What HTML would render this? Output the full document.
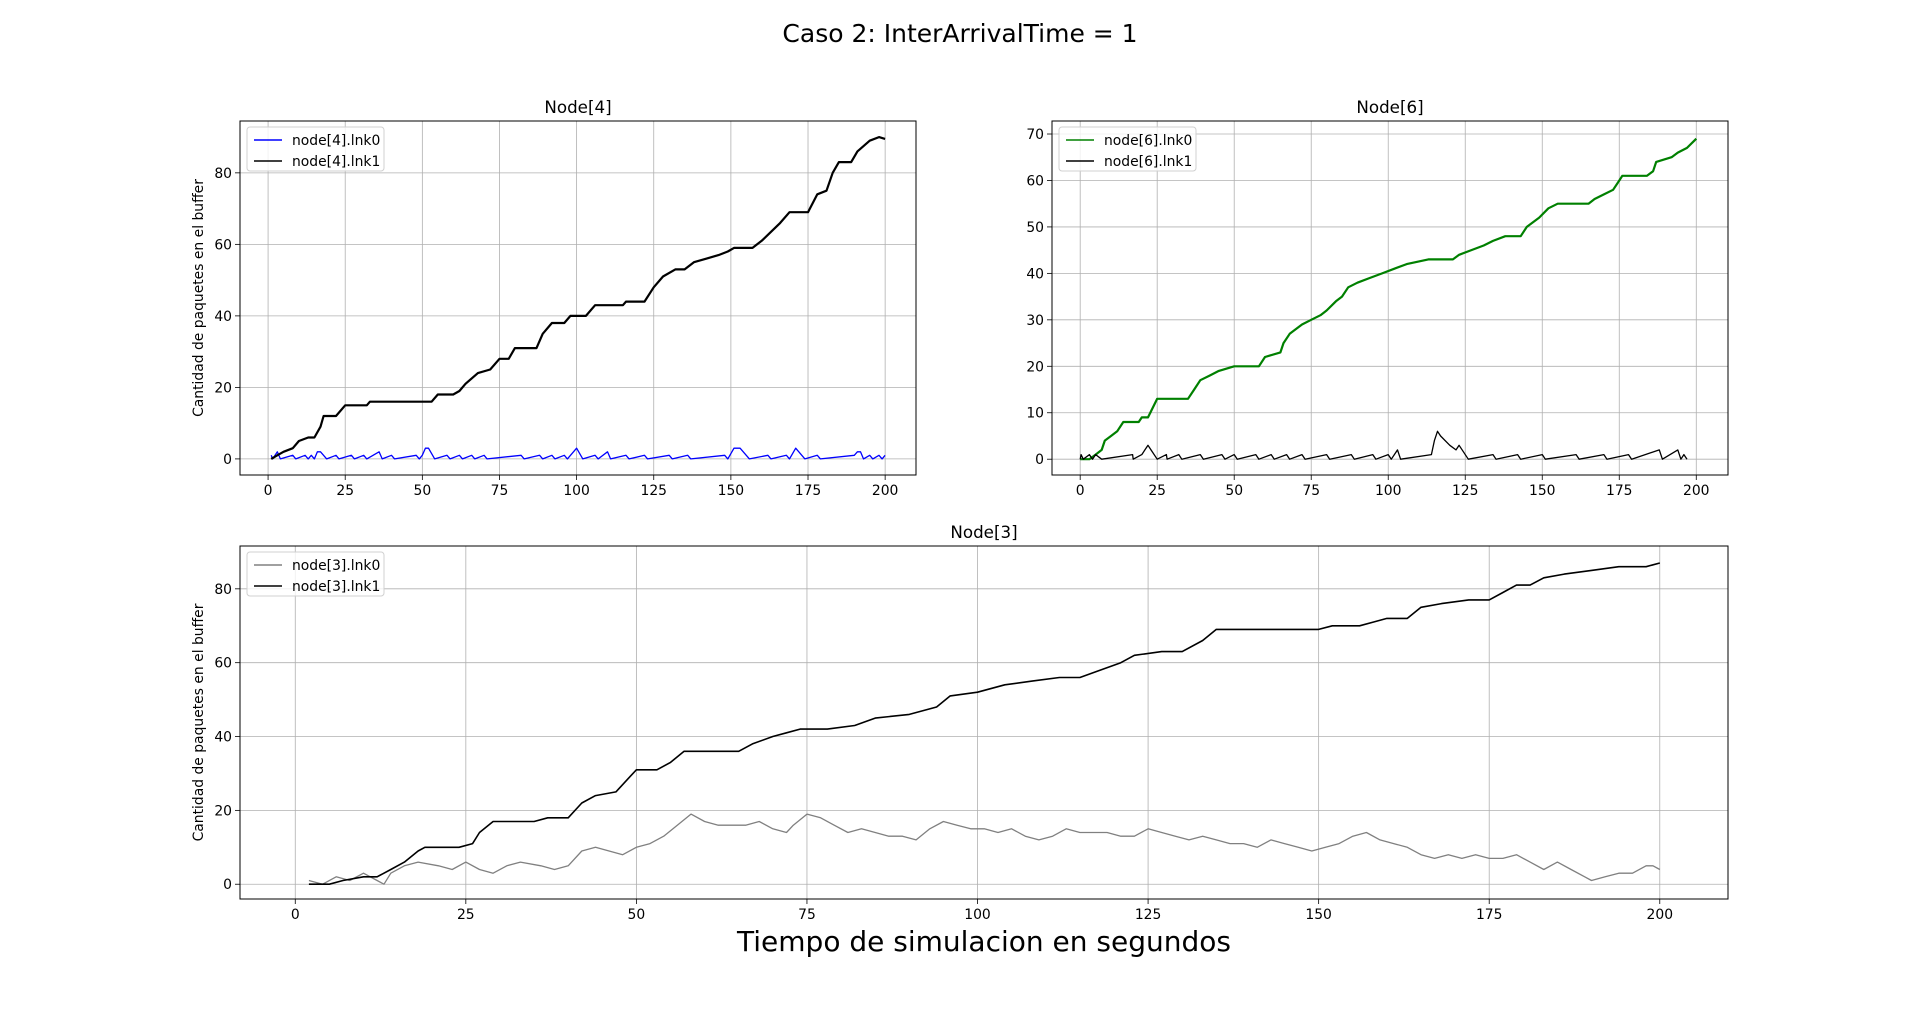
<!DOCTYPE html>
<html><head><meta charset="utf-8"><style>
body{margin:0;background:#fff;}
svg{display:block;font-family:"DejaVu Sans","Liberation Sans",sans-serif;}
</style></head><body>
<svg id="fig" width="1920" height="1010" xmlns="http://www.w3.org/2000/svg">
<text x="960" y="42" text-anchor="middle" font-size="25">Caso 2: InterArrivalTime = 1</text>
<text x="984" y="951" text-anchor="middle" font-size="28">Tiempo de simulacion en segundos</text>
</svg>
<script>
const xTicks=[0,25,50,75,100,125,150,175,200];
const yTicks4=[0,20,40,60,80];
const yTicks6=[0,10,20,30,40,50,60,70];
const yTicks3=[0,20,40,60,80];
const n4l1T=[1,3,5,8,10,13,15,17,18,22,25,32,33,53,55,60,62,64,68,72,75,78,80,87,89,92,96,98,103,106,115,116,122,125,128,132,135,138,142,146,149,151,157,160,166,169,175,178,181,183,185,189,191,195,198,200];
const n4l1V=[0,1,2,3,5,6,6,9,12,12,15,15,16,16,18,18,19,21,24,25,28,28,31,31,35,38,38,40,40,43,43,44,44,48,51,53,53,55,56,57,58,59,59,61,66,69,69,74,75,80,83,83,86,89,90,89.5];
const n4l0T=[1,1.5,3,4,8,9,12,13,14,15,16,17,19,22,23,27,28,31,32,36,37,40,41,48,49,50,51,52,54,58,59,62,63,66,67,70,71,82,83,88,89,92,93,96,97,100,102,106,107,110,111,116,117,122,123,130,131,136,137,148,149,151,153,156,162,163,168,169,171,174,178,179,190,191,192,193,195,196,198,199,200];
const n4l0V=[1,0,2,0,1,0,1,0,1,0,2,2,0,1,0,1,0,1,0,2,0,1,0,1,0,1,3,3,0,1,0,1,0,1,0,1,0,1,0,1,0,1,0,1,0,3,0,1,0,2,0,1,0,1,0,1,0,1,0,1,0,3,3,0,1,0,1,0,3,0,1,0,1,2,2,0,1,0,1,0,1];
const n6l0T=[0,3,5,7,8,10,12,14,19,20,22,25,35,37,39,42,45,50,58,60,65,66,68,72,75,78,80,83,85,87,90,94,98,102,106,113,121,123,127,131,134,138,143,145,149,152,155,165,167,170,173,175,176,184,186,187,192,194,197,200];
const n6l0V=[0,0,1,2,4,5,6,8,8,9,9,13,13,15,17,18,19,20,20,22,23,25,27,29,30,31,32,34,35,37,38,39,40,41,42,43,43,44,45,46,47,48,48,50,52,54,55,55,56,57,58,60,61,61,62,64,65,66,67,69];
const n6l1T=[0,0.3,1,3,4,5,7,17,17.2,20,21,22,23,25,28,28.2,32,33,39,40,46,47,50,51,57,58,62,63,67,68,72,73,80,81,88,89,95,96,100,101,103,104,114,115,116,117,120,122,123,126,134,135,142,143,150,151,161,162,170,171,178,179,188,189,194,195,196,197];
const n6l1V=[0,1,0,1,0,1,0,1,0,1,2,3,2,0,1,0,1,0,1,0,1,0,1,0,1,0,1,0,1,0,1,0,1,0,1,0,1,0,1,0,2,0,1,4,6,5,3,2,3,0,1,0,1,0,1,0,1,0,1,0,1,0,2,0,2,0,1,0];
const n3l1T=[2,5,7,10,12,14,16,18,19,24,26,27,29,35,37,40,42,44,47,49,50,53,55,57,65,67,70,72,74,78,82,85,90,94,96,100,104,108,112,115,118,121,123,127,130,133,135,150,152,156,158,160,163,165,168,172,175,177,179,181,183,186,190,194,198,200];
const n3l1V=[0,0,1,2,2,4,6,9,10,10,11,14,17,17,18,18,22,24,25,29,31,31,33,36,36,38,40,41,42,42,43,45,46,48,51,52,54,55,56,56,58,60,62,63,63,66,69,69,70,70,71,72,72,75,76,77,77,79,81,81,83,84,85,86,86,87];
const n3l0T=[2,4,6,8,10,12,13,14,16,18,21,23,25,27,29,31,33,36,38,40,42,44,46,48,50,52,54,56,58,60,62,64,66,68,70,72,73,75,77,79,81,83,85,87,89,91,93,95,97,99,101,103,105,107,109,111,113,115,117,119,121,123,125,127,129,131,133,135,137,139,141,143,145,147,149,151,153,155,157,159,161,163,165,167,169,171,173,175,177,179,181,183,185,187,189,190,192,194,196,198,199,200];
const n3l0V=[1,0,2,1,3,1,0,3,5,6,5,4,6,4,3,5,6,5,4,5,9,10,9,8,10,11,13,16,19,17,16,16,16,17,15,14,16,19,18,16,14,15,14,13,13,12,15,17,16,15,15,14,15,13,12,13,15,14,14,14,13,13,15,14,13,12,13,12,11,11,10,12,11,10,9,10,11,13,14,12,11,10,8,7,8,7,8,7,7,8,6,4,6,4,2,1,2,3,3,5,5,4];

const NS='http://www.w3.org/2000/svg';
const fig=document.getElementById('fig');
function mk(tag,attrs,parent){const e=document.createElementNS(NS,tag);for(const k in attrs)e.setAttribute(k,attrs[k]);(parent||fig).appendChild(e);return e;}
function panel(name,L,T,W,H,xlim,ylim,yTicks,title,series,legend,ylabel){
  const g=mk('g',{});
  
  
  const sx=v=>L+(v-xlim[0])/(xlim[1]-xlim[0])*W;
  const sy=v=>T+H-(v-ylim[0])/(ylim[1]-ylim[0])*H;
  xTicks.forEach(t=>{
    const l=mk('line',{x1:sx(t),x2:sx(t),y1:T,y2:T+H,stroke:'#b0b0b0','stroke-width':0.8},g);
    
    
    mk('line',{x1:sx(t),x2:sx(t),y1:T+H,y2:T+H+5,stroke:'#000','stroke-width':0.8},g);
    const tx=mk('text',{x:sx(t),y:T+H+20,'text-anchor':'middle','font-size':13.9},g);
    tx.textContent=t;
    
    
  });
  yTicks.forEach(t=>{
    const l=mk('line',{x1:L,x2:L+W,y1:sy(t),y2:sy(t),stroke:'#b0b0b0','stroke-width':0.8},g);
    
    
    mk('line',{x1:L-5,x2:L,y1:sy(t),y2:sy(t),stroke:'#000','stroke-width':0.8},g);
    const tx=mk('text',{x:L-8,y:sy(t)+5,'text-anchor':'end','font-size':13.9},g);
    tx.textContent=t;
    
    
  });
  series.forEach(s=>{
    const pts=s.t.map((t,i)=>sx(t).toFixed(1)+','+sy(s.v[i]).toFixed(1)).join(' ');
    const p=mk('polyline',{points:pts,fill:'none',stroke:s.c,'stroke-width':s.w,'stroke-linejoin':'round'},g);
    
    
  });
  mk('rect',{x:L,y:T,width:W,height:H,fill:'none',stroke:'#000','stroke-width':1},g);
  const tt=mk('text',{x:L+W/2,y:T-8,'text-anchor':'middle','font-size':16.7},g);
  tt.textContent=title;
  
  
  if(ylabel){
    const yl=mk('text',{x:0,y:0,'text-anchor':'middle','font-size':13.9,transform:'translate('+(L-37)+','+(T+H/2)+') rotate(-90)'},g);
    yl.textContent='Cantidad de paquetes en el buffer';
    
    
  }
  const lg=mk('g',{},g);
  
  
  mk('rect',{x:L+7,y:T+6,width:legend.w,height:44,rx:3,fill:'#fff','fill-opacity':0.8,stroke:'#d0d0d0'},lg);
  series.forEach((s,i)=>{
    const yy=T+19+i*21;
    mk('line',{x1:L+14,x2:L+42,y1:yy,y2:yy,stroke:s.c,'stroke-width':1.5},lg);
    const t=mk('text',{x:L+52,y:yy+5,'font-size':13.9},lg);
    t.textContent=s.label;
    
    
  });
}
panel('node4',240,121,676,354,[-9.1,210],[-4.5,94.5],yTicks4,'Node[4]',[
  {t:n4l0T,v:n4l0V,c:'#0000ff',w:1.3,n:'node4-lnk0-line',label:'node[4].lnk0'},
  {t:n4l1T,v:n4l1V,c:'#000',w:2.2,n:'node4-lnk1-line',label:'node[4].lnk1'}],{w:137},true);
panel('node6',1052,121,676,354,[-9.15,210.3],[-3.4,72.8],yTicks6,'Node[6]',[
  {t:n6l0T,v:n6l0V,c:'#008000',w:2.2,n:'node6-lnk0-line',label:'node[6].lnk0'},
  {t:n6l1T,v:n6l1V,c:'#000',w:1.3,n:'node6-lnk1-line',label:'node[6].lnk1'}],{w:137},false);
panel('node3',240,546,1488,353,[-8.1,210],[-4,91.6],yTicks3,'Node[3]',[
  {t:n3l0T,v:n3l0V,c:'#808080',w:1.3,n:'node3-lnk0-line',label:'node[3].lnk0'},
  {t:n3l1T,v:n3l1V,c:'#000',w:1.6,n:'node3-lnk1-line',label:'node[3].lnk1'}],{w:137},true);
</script>
</body></html>
